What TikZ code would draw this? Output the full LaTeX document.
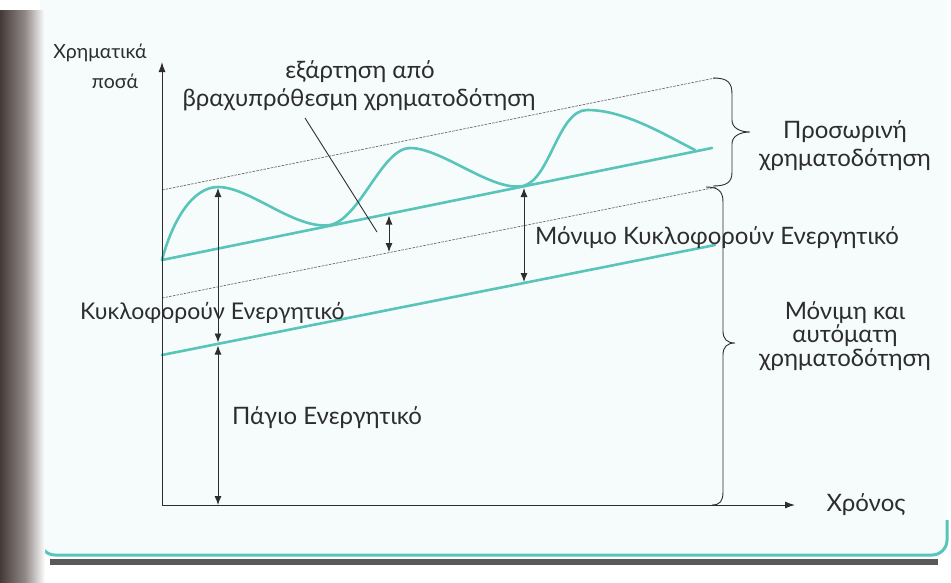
\documentclass[tikz,border=0pt]{standalone}
\usepackage{fontspec}
\setmainfont{Lato}
\usetikzlibrary{arrows.meta}
\definecolor{tealc}{RGB}{88,196,186}
\definecolor{ink}{RGB}{45,45,45}
\definecolor{dashc}{RGB}{105,105,105}
\definecolor{paper}{RGB}{246,252,252}
\definecolor{binding}{RGB}{70,58,56}
\begin{document}
\begin{tikzpicture}[x=1pt,y=-1pt,
  axis/.style={ink, line width=1pt, -{Latex[length=10pt,width=7pt]}},
  dbl/.style={ink, line width=0.9pt, {Latex[length=9pt,width=7pt]}-{Latex[length=9pt,width=7pt]}},
  tealline/.style={tealc, line width=2.6pt, line cap=round},
  guide/.style={dashc, line width=0.7pt, dash pattern=on 2.5pt off 1.2pt},
  lbl/.style={ink, font=\fontsize{24}{28}\selectfont, inner sep=0pt},
  small/.style={ink, font=\fontsize{19.5}{22}\selectfont, inner sep=0pt},
  bracestyle/.style={ink, line width=0.9pt},
  leader/.style={ink, line width=0.9pt}]
\useasboundingbox (0,0) rectangle (951,582);
% paper and panel
\fill[white] (0,0) rectangle (951,582);
\fill[paper, rounded corners=15pt] (40,-20) -- (40,555) -- (947,555) -- (947,-20) -- cycle;
\draw[black!65, line width=6pt] (50,562) -- (938,562);
\draw[tealc, line width=3pt, rounded corners=15pt] (40,520) -- (40,555) -- (947,555) -- (947,520);
\shade[left color=binding, right color=binding!60!white] (0,10) rectangle (25,582);
\shade[left color=binding!60!white, right color=white] (25,10) rectangle (45,582);
% coordinates
\coordinate (O) at (162,505);
\coordinate (Ytop) at (162,62);
\coordinate (Xend) at (795,505);
\coordinate (L1a) at (162,355); \coordinate (L1b) at (715,245);
\coordinate (L2a) at (162,260); \coordinate (L2b) at (712,148);
\coordinate (D1a) at (162,190); \coordinate (D1b) at (715,78);
\coordinate (D2a) at (162,298); \coordinate (D2b) at (717,187);
\coordinate (P1) at (218,187); \coordinate (T1) at (330,225);
\coordinate (P2) at (410,148); \coordinate (T2) at (523,186);
\coordinate (P3) at (587,110); \coordinate (E) at (695,150);
\coordinate (A1t) at (218,188); \coordinate (A1b) at (218,342.5);
\coordinate (A2t) at (218,345.5); \coordinate (A2b) at (218,505);
\coordinate (A3t) at (389,215.5); \coordinate (A3b) at (389,252);
\coordinate (A4t) at (524,188); \coordinate (A4b) at (524,282);
\coordinate (Ls) at (305,118); \coordinate (Le) at (377,232);
% guides
\draw[guide] (D1a) -- (D1b);
\draw[guide] (D2a) -- (D2b);
% teal lines
\draw[tealline] (L1a) -- (L1b);
\draw[tealline] (L2a) -- (L2b);
\draw[tealline] (L2a) .. controls (172,222) and (192,187) .. (P1)
  .. controls (250,187) and (295,230) .. (T1)
  .. controls (360,219) and (382,148) .. (P2)
  .. controls (442,148) and (492,192) .. (T2)
  .. controls (550,180) and (558,110) .. (P3)
  .. controls (625,110) and (665,135) .. (E);
% axes
\draw[axis] (O) -- (Ytop);
\draw[axis] (O) -- (Xend);
% double arrows
\draw[dbl] (A1t) -- (A1b);
\draw[dbl] (A2t) -- (A2b);
\draw[dbl] (A3t) -- (A3b);
\draw[dbl] (A4t) -- (A4b);
\draw[leader] (Ls) -- (Le);
% braces
\draw[bracestyle] (713,78) .. controls (727,78) and (732,82) .. (732,94) -- (732,120)
  .. controls (732,128) and (740,132) .. (750,132)
  .. controls (740,132) and (732,136) .. (732,144) -- (732,172)
  .. controls (732,182) and (727,186) .. (713,186);
\draw[bracestyle] (706,187) .. controls (718,187) and (723,191) .. (723,202) -- (723,331)
  .. controls (723,339) and (727,343) .. (735,343)
  .. controls (727,343) and (723,347) .. (723,355) -- (723,492)
  .. controls (723,501) and (720,505) .. (712,505);
% labels
\node[small] (ylab1) at (100,53) {Χρηματικά};
\node[small] (ylab2) at (115,81) {ποσά};
\node[lbl] (dep1) at (360,72) {εξάρτηση από};
\node[lbl] (dep2) at (359,100) {βραχυπρόθεσμη χρηματοδότηση};
\node[lbl, anchor=west] (mke) at (535,238) {Μόνιμο Κυκλοφορούν Ενεργητικό};
\node[lbl, anchor=west, font=\fontsize{23}{26}\selectfont] (ke) at (80,313) {Κυκλοφορούν Ενεργητικό};
\node[lbl, anchor=west] (pe) at (232,418) {Πάγιο Ενεργητικό};
\node[lbl, align=center, font=\fontsize{24}{28}\selectfont] (pr) at (845,146) {Προσωρινή\\χρηματοδότηση};
\node[lbl, align=center, font=\fontsize{24}{23.5}\selectfont] (mon) at (845,336) {Μόνιμη και\\αυτόματη\\χρηματοδότηση};
\node[lbl] (xr) at (866,505) {Χρόνος};
\end{tikzpicture}
\end{document}
